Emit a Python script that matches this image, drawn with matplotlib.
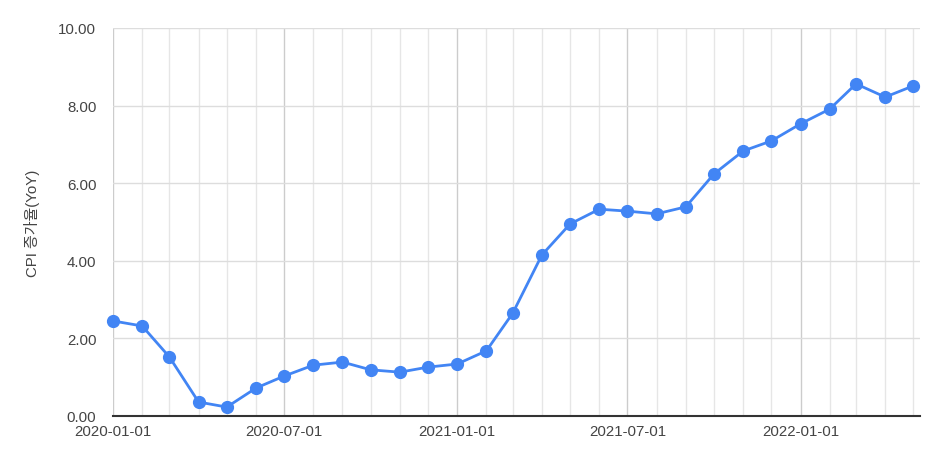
import matplotlib
matplotlib.use("Agg")
import matplotlib.pyplot as plt
import matplotlib.dates as mdates
import pandas as pd

# 월별 CPI 증가율 (YoY, %)
months = pd.date_range("2020-01-01", "2022-05-01", freq="MS")
cpi_yoy = [2.45, 2.32, 1.52, 0.36, 0.23, 0.72, 1.03, 1.31, 1.39, 1.19,
           1.13, 1.26, 1.34, 1.68, 2.65, 4.15, 4.95, 5.33, 5.28, 5.21,
           5.39, 6.24, 6.83, 7.09, 7.53, 7.91, 8.56, 8.22, 8.51]
y_ticks = [0, 2, 4, 6, 8, 10]

LINE = "#4285F4"
TEXT = "#444444"

plt.rcParams["font.family"] = ["Liberation Sans", "Noto Sans CJK KR", "DejaVu Sans"]

fig = plt.figure(figsize=(9.4, 4.6), dpi=100)
ax = fig.add_axes([113 / 940, 1 - 417 / 460, (920 - 113) / 940, (417 - 29) / 460])

ax.plot(months, cpi_yoy, "-o", color=LINE, lw=2, markersize=8.5, zorder=3,
        clip_on=False)

ax.set_xlim(pd.Timestamp("2020-01-01"), pd.Timestamp("2022-05-08"))
ax.set_ylim(0, 10)
ax.set_yticks(y_ticks)
ax.yaxis.set_major_formatter(matplotlib.ticker.FormatStrFormatter("%.2f"))

ax.xaxis.set_major_locator(mdates.MonthLocator(bymonth=[1, 7]))
ax.xaxis.set_minor_locator(mdates.MonthLocator())
ax.xaxis.set_major_formatter(mdates.DateFormatter("%Y-%m-%d"))

ax.grid(True, axis="x", which="minor", color="#e6e6e6", lw=1, zorder=0)
ax.grid(True, axis="x", which="major", color="#cccccc", lw=1, zorder=0)
ax.grid(True, axis="y", which="major", color="#dddddd", lw=1, zorder=0)

for s in ("top", "right", "left"):
    ax.spines[s].set_visible(False)
ax.spines["bottom"].set_color("#333333")
ax.spines["bottom"].set_linewidth(1.5)
ax.spines["bottom"].set_zorder(4)

ax.tick_params(axis="both", which="both", length=0, colors=TEXT, labelsize=10.8)
ax.tick_params(axis="x", pad=6)
ax.tick_params(axis="y", pad=12)

ax.set_ylabel("CPI 증가율(YoY)", fontsize=10.8, color=TEXT, labelpad=13)

fig.savefig("out.png", dpi=100, facecolor="white")
